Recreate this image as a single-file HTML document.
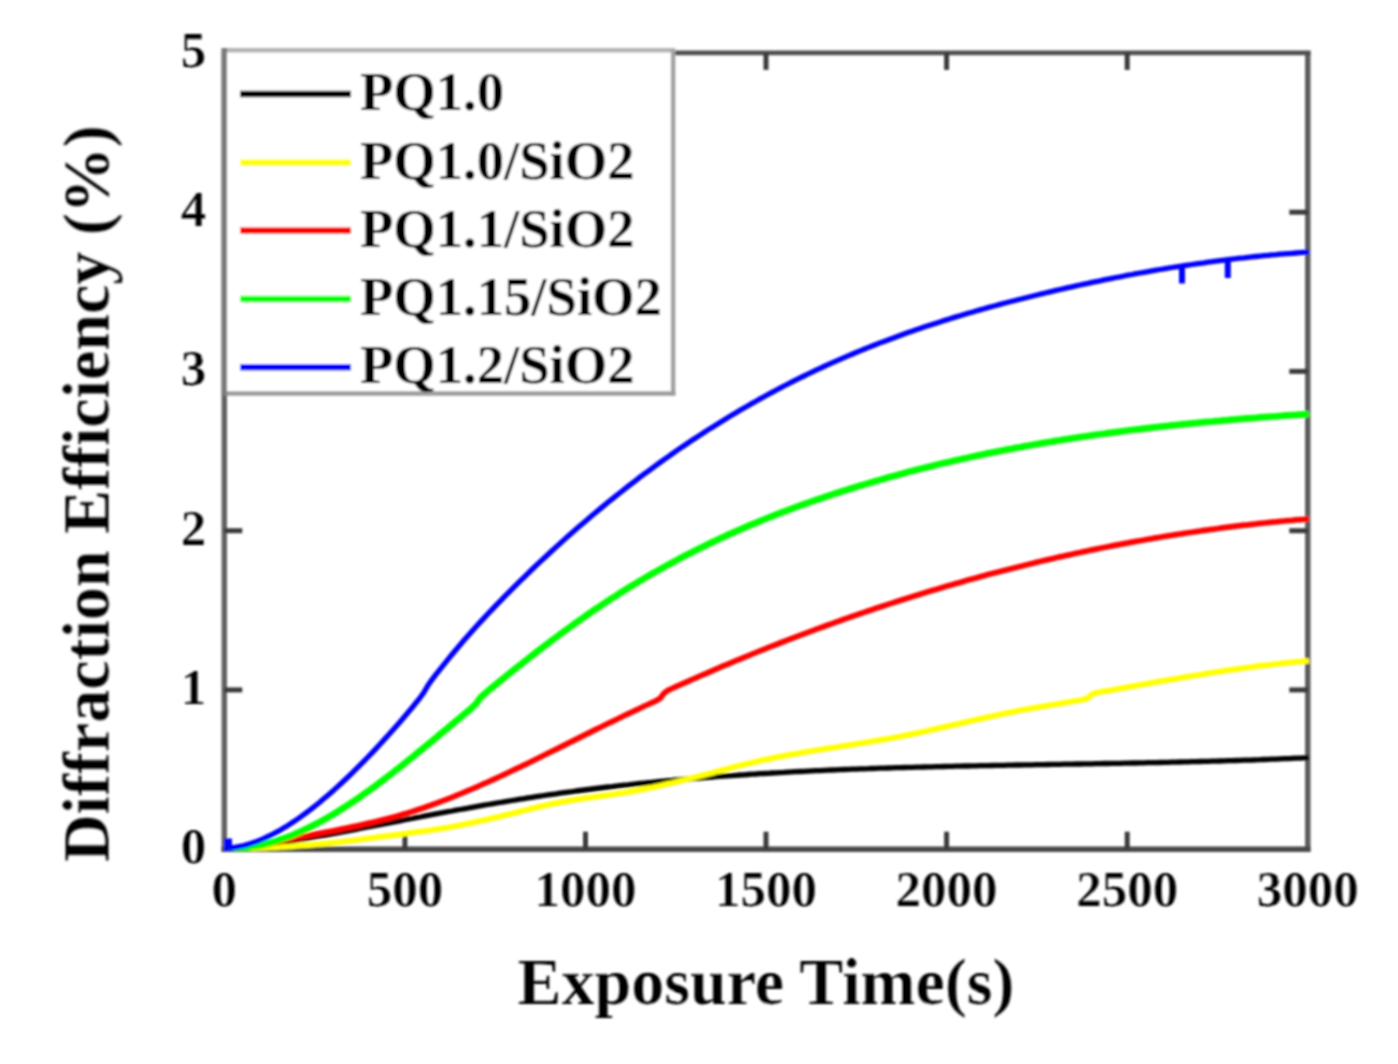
<!DOCTYPE html>
<html><head><meta charset="utf-8"><title>Diffraction Efficiency vs Exposure Time</title>
<style>
html,body{margin:0;padding:0;background:#fff;}
body{width:1398px;height:1064px;overflow:hidden;}
svg{display:block;}
text{font-variant-ligatures:none;font-family:"Liberation Serif",serif;font-weight:bold;fill:#000;}
.lg{font-size:54.6px;}
.tk{font-size:51px;stroke:#fff;stroke-width:0.2px;}
.ti{font-size:66px;stroke:#fff;stroke-width:0.2px;}
</style></head><body>
<svg width="1398" height="1064" viewBox="0 0 1398 1064">
<defs><filter id="bl" x="-2%" y="-2%" width="104%" height="104%"><feGaussianBlur stdDeviation="1.15"/></filter><clipPath id="cp"><rect x="224" y="40" width="1085.6" height="811"/></clipPath></defs>
<rect width="1398" height="1064" fill="#fff"/>
<g filter="url(#bl)">
<g fill="none">
<line x1="224.3" y1="50.9" x2="224.3" y2="851.7" stroke="#626262" stroke-width="5.5"/>
<line x1="1307.8" y1="50.9" x2="1307.8" y2="851.7" stroke="#5c5c5c" stroke-width="5.5"/>
<line x1="224.3" y1="52.9" x2="1310.5" y2="52.9" stroke="#4f4f4f" stroke-width="4.6"/>
<line x1="221.60000000000002" y1="849.2" x2="1310.5" y2="849.2" stroke="#494949" stroke-width="5.5"/>
</g>
<g stroke="#3a3a3a" stroke-width="5">
<line x1="404.9" y1="849.2" x2="404.9" y2="831.7"/>
<line x1="404.9" y1="52.9" x2="404.9" y2="69.9"/>
<line x1="585.5" y1="849.2" x2="585.5" y2="831.7"/>
<line x1="585.5" y1="52.9" x2="585.5" y2="69.9"/>
<line x1="766.0" y1="849.2" x2="766.0" y2="831.7"/>
<line x1="766.0" y1="52.9" x2="766.0" y2="69.9"/>
<line x1="946.6" y1="849.2" x2="946.6" y2="831.7"/>
<line x1="946.6" y1="52.9" x2="946.6" y2="69.9"/>
<line x1="1127.2" y1="849.2" x2="1127.2" y2="831.7"/>
<line x1="1127.2" y1="52.9" x2="1127.2" y2="69.9"/>
<line x1="224.3" y1="689.9" x2="242.3" y2="689.9"/>
<line x1="1307.8" y1="689.9" x2="1289.3" y2="689.9"/>
<line x1="224.3" y1="530.7" x2="242.3" y2="530.7"/>
<line x1="1307.8" y1="530.7" x2="1289.3" y2="530.7"/>
<line x1="224.3" y1="371.4" x2="242.3" y2="371.4"/>
<line x1="1307.8" y1="371.4" x2="1289.3" y2="371.4"/>
<line x1="224.3" y1="212.2" x2="242.3" y2="212.2"/>
<line x1="1307.8" y1="212.2" x2="1289.3" y2="212.2"/>
</g>
<g fill="none" stroke-linejoin="round" clip-path="url(#cp)">
<path d="M224.0,848.6 L228.0,848.3 L232.0,848.0 L236.0,847.7 L240.0,847.4 L244.0,847.0 L248.0,846.6 L252.0,846.2 L256.0,845.7 L260.0,845.2 L264.0,844.7 L268.0,844.2 L272.0,843.7 L276.0,843.1 L280.0,842.6 L284.0,842.0 L288.0,841.4 L292.0,840.8 L296.0,840.1 L300.0,839.5 L304.0,838.8 L308.0,838.1 L312.0,837.4 L316.0,836.7 L320.0,836.0 L324.0,835.3 L328.0,834.6 L332.0,833.8 L336.0,833.1 L340.0,832.3 L344.0,831.6 L348.0,830.8 L352.0,830.1 L356.0,829.3 L360.0,828.5 L364.0,827.7 L368.0,827.0 L372.0,826.2 L376.0,825.4 L380.0,824.6 L384.0,823.9 L388.0,823.1 L392.0,822.3 L396.0,821.6 L400.0,820.8 L404.0,820.0 L408.0,819.2 L412.0,818.5 L416.0,817.7 L420.0,817.0 L424.0,816.2 L428.0,815.4 L432.0,814.7 L436.0,813.9 L440.0,813.2 L444.0,812.4 L448.0,811.7 L452.0,811.0 L456.0,810.2 L460.0,809.5 L464.0,808.8 L468.0,808.1 L472.0,807.3 L476.0,806.6 L480.0,805.9 L484.0,805.2 L488.0,804.5 L492.0,803.8 L496.0,803.2 L500.0,802.5 L504.0,801.8 L508.0,801.2 L512.0,800.5 L516.0,799.8 L520.0,799.2 L524.0,798.6 L528.0,797.9 L532.0,797.3 L536.0,796.7 L540.0,796.1 L544.0,795.5 L548.0,794.9 L552.0,794.3 L556.0,793.8 L560.0,793.2 L564.0,792.6 L568.0,792.1 L572.0,791.6 L576.0,791.0 L580.0,790.5 L584.0,790.0 L588.0,789.5 L592.0,789.0 L596.0,788.5 L600.0,788.0 L604.0,787.5 L608.0,787.0 L612.0,786.6 L616.0,786.1 L620.0,785.6 L624.0,785.2 L628.0,784.8 L632.0,784.3 L636.0,783.9 L640.0,783.5 L644.0,783.1 L648.0,782.7 L652.0,782.3 L656.0,781.9 L660.0,781.5 L664.0,781.1 L668.0,780.7 L672.0,780.4 L676.0,780.0 L680.0,779.7 L684.0,779.3 L688.0,779.0 L692.0,778.6 L696.0,778.3 L700.0,778.0 L704.0,777.7 L708.0,777.3 L712.0,777.0 L716.0,776.7 L720.0,776.4 L724.0,776.1 L728.0,775.8 L732.0,775.6 L736.0,775.3 L740.0,775.0 L744.0,774.8 L748.0,774.5 L752.0,774.2 L756.0,774.0 L760.0,773.7 L764.0,773.5 L768.0,773.3 L772.0,773.0 L776.0,772.8 L780.0,772.6 L784.0,772.4 L788.0,772.1 L792.0,771.9 L796.0,771.7 L800.0,771.5 L804.0,771.3 L808.0,771.1 L812.0,770.9 L816.0,770.7 L820.0,770.6 L824.0,770.4 L828.0,770.2 L832.0,770.0 L836.0,769.9 L840.0,769.7 L844.0,769.5 L848.0,769.4 L852.0,769.2 L856.0,769.1 L860.0,768.9 L864.0,768.8 L868.0,768.7 L872.0,768.5 L876.0,768.4 L880.0,768.2 L884.0,768.1 L888.0,768.0 L892.0,767.9 L896.0,767.7 L900.0,767.6 L904.0,767.5 L908.0,767.4 L912.0,767.3 L916.0,767.2 L920.0,767.1 L924.0,767.0 L928.0,766.9 L932.0,766.8 L936.0,766.7 L940.0,766.6 L944.0,766.5 L948.0,766.4 L952.0,766.3 L956.0,766.2 L960.0,766.1 L964.0,766.0 L968.0,766.0 L972.0,765.9 L976.0,765.8 L980.0,765.7 L984.0,765.6 L988.0,765.6 L992.0,765.5 L996.0,765.4 L1000.0,765.3 L1004.0,765.3 L1008.0,765.2 L1012.0,765.1 L1016.0,765.0 L1020.0,765.0 L1024.0,764.9 L1028.0,764.8 L1032.0,764.8 L1036.0,764.7 L1040.0,764.6 L1044.0,764.6 L1048.0,764.5 L1052.0,764.4 L1056.0,764.4 L1060.0,764.3 L1064.0,764.2 L1068.0,764.2 L1072.0,764.1 L1076.0,764.0 L1080.0,764.0 L1084.0,763.9 L1088.0,763.8 L1092.0,763.8 L1096.0,763.7 L1100.0,763.6 L1104.0,763.5 L1108.0,763.5 L1112.0,763.4 L1116.0,763.3 L1120.0,763.3 L1124.0,763.2 L1128.0,763.1 L1132.0,763.0 L1136.0,763.0 L1140.0,762.9 L1144.0,762.8 L1148.0,762.7 L1152.0,762.6 L1156.0,762.6 L1160.0,762.5 L1164.0,762.4 L1168.0,762.3 L1172.0,762.2 L1176.0,762.1 L1180.0,762.0 L1184.0,761.9 L1188.0,761.8 L1192.0,761.7 L1196.0,761.6 L1200.0,761.5 L1204.0,761.4 L1208.0,761.3 L1212.0,761.2 L1216.0,761.1 L1220.0,761.0 L1224.0,760.9 L1228.0,760.7 L1232.0,760.6 L1236.0,760.5 L1240.0,760.4 L1244.0,760.2 L1248.0,760.1 L1252.0,760.0 L1256.0,759.8 L1260.0,759.7 L1264.0,759.5 L1268.0,759.4 L1272.0,759.2 L1276.0,759.1 L1280.0,758.9 L1284.0,758.7 L1288.0,758.6 L1292.0,758.4 L1296.0,758.2 L1300.0,758.1 L1304.0,757.9 L1308.0,757.7 L1309.0,757.6" stroke="#000" stroke-width="5.3"/>
<path d="M224.0,848.5 L228.0,848.5 L232.0,848.5 L236.0,848.5 L240.0,848.4 L244.0,848.4 L248.0,848.3 L252.0,848.2 L256.0,848.1 L260.0,847.9 L264.0,847.8 L268.0,847.6 L272.0,847.5 L276.0,847.3 L280.0,847.0 L284.0,846.8 L288.0,846.6 L292.0,846.3 L296.0,846.0 L300.0,845.7 L304.0,845.4 L308.0,845.1 L312.0,844.8 L316.0,844.4 L320.0,844.1 L324.0,843.7 L328.0,843.3 L332.0,842.9 L336.0,842.4 L340.0,842.0 L344.0,841.5 L348.0,841.0 L352.0,840.6 L356.0,840.1 L360.0,839.5 L364.0,839.0 L368.0,838.5 L372.0,838.0 L376.0,837.4 L380.0,836.9 L384.0,836.4 L388.0,835.8 L392.0,835.3 L396.0,834.8 L400.0,834.3 L404.0,833.8 L408.0,833.2 L412.0,832.7 L416.0,832.2 L420.0,831.7 L424.0,831.2 L428.0,830.6 L432.0,830.0 L436.0,829.4 L440.0,828.8 L444.0,828.1 L448.0,827.5 L452.0,826.7 L456.0,826.0 L460.0,825.2 L464.0,824.4 L468.0,823.6 L472.0,822.8 L476.0,821.9 L480.0,821.0 L484.0,820.1 L488.0,819.2 L492.0,818.3 L496.0,817.4 L500.0,816.4 L504.0,815.4 L508.0,814.4 L512.0,813.4 L516.0,812.4 L520.0,811.4 L524.0,810.5 L528.0,809.5 L532.0,808.5 L536.0,807.5 L540.0,806.6 L544.0,805.7 L548.0,804.8 L552.0,803.9 L556.0,803.1 L560.0,802.3 L564.0,801.6 L568.0,800.9 L572.0,800.2 L576.0,799.6 L580.0,799.0 L584.0,798.4 L588.0,797.8 L592.0,797.3 L596.0,796.7 L600.0,796.2 L604.0,795.6 L608.0,795.1 L612.0,794.5 L616.0,793.9 L620.0,793.3 L624.0,792.7 L628.0,792.1 L632.0,791.4 L636.0,790.7 L640.0,789.9 L644.0,789.1 L648.0,788.3 L652.0,787.5 L656.0,786.6 L660.0,785.7 L664.0,784.8 L668.0,783.9 L672.0,783.0 L676.0,782.0 L680.0,781.0 L684.0,780.1 L688.0,779.1 L692.0,778.1 L696.0,777.0 L700.0,776.0 L704.0,775.0 L708.0,773.9 L712.0,772.9 L716.0,771.8 L720.0,770.8 L724.0,769.7 L728.0,768.7 L732.0,767.6 L736.0,766.6 L740.0,765.6 L744.0,764.6 L748.0,763.6 L752.0,762.7 L756.0,761.7 L760.0,760.8 L764.0,759.9 L768.0,759.1 L772.0,758.2 L776.0,757.4 L780.0,756.6 L784.0,755.9 L788.0,755.1 L792.0,754.4 L796.0,753.7 L800.0,753.0 L804.0,752.3 L808.0,751.6 L812.0,751.0 L816.0,750.3 L820.0,749.7 L824.0,749.0 L828.0,748.4 L832.0,747.8 L836.0,747.2 L840.0,746.5 L844.0,745.9 L848.0,745.3 L852.0,744.7 L856.0,744.1 L860.0,743.4 L864.0,742.8 L868.0,742.1 L872.0,741.5 L876.0,740.8 L880.0,740.1 L884.0,739.4 L888.0,738.7 L892.0,738.0 L896.0,737.3 L900.0,736.5 L904.0,735.7 L908.0,734.9 L912.0,734.1 L916.0,733.3 L920.0,732.4 L924.0,731.6 L928.0,730.7 L932.0,729.8 L936.0,728.9 L940.0,728.0 L944.0,727.1 L948.0,726.2 L952.0,725.3 L956.0,724.4 L960.0,723.4 L964.0,722.5 L968.0,721.6 L972.0,720.7 L976.0,719.8 L980.0,718.9 L984.0,718.0 L988.0,717.1 L992.0,716.2 L996.0,715.4 L1000.0,714.5 L1004.0,713.7 L1008.0,712.9 L1012.0,712.1 L1016.0,711.3 L1020.0,710.5 L1024.0,709.8 L1028.0,709.0 L1032.0,708.3 L1036.0,707.6 L1040.0,706.9 L1044.0,706.3 L1048.0,705.6 L1052.0,704.9 L1056.0,704.3 L1060.0,703.6 L1064.0,702.9 L1068.0,702.2 L1072.0,701.5 L1076.0,700.8 L1080.0,700.2 L1084.0,699.5 L1088.0,698.0 L1092.0,694.3 L1096.0,692.8 L1100.0,692.1 L1104.0,691.4 L1108.0,690.7 L1112.0,690.0 L1116.0,689.3 L1120.0,688.6 L1124.0,687.8 L1128.0,687.1 L1132.0,686.4 L1136.0,685.7 L1140.0,685.0 L1144.0,684.3 L1148.0,683.6 L1152.0,682.8 L1156.0,682.1 L1160.0,681.4 L1164.0,680.7 L1168.0,680.0 L1172.0,679.4 L1176.0,678.7 L1180.0,678.0 L1184.0,677.3 L1188.0,676.6 L1192.0,676.0 L1196.0,675.3 L1200.0,674.7 L1204.0,674.0 L1208.0,673.4 L1212.0,672.8 L1216.0,672.1 L1220.0,671.5 L1224.0,670.9 L1228.0,670.3 L1232.0,669.7 L1236.0,669.2 L1240.0,668.6 L1244.0,668.0 L1248.0,667.5 L1252.0,667.0 L1256.0,666.4 L1260.0,665.9 L1264.0,665.4 L1268.0,665.0 L1272.0,664.5 L1276.0,664.0 L1280.0,663.6 L1284.0,663.1 L1288.0,662.7 L1292.0,662.3 L1296.0,661.9 L1300.0,661.6 L1304.0,661.2 L1308.0,660.9 L1309.0,660.8" stroke="#ffff00" stroke-width="5.7"/>
<path d="M224.0,848.5 L228.0,848.4 L232.0,848.2 L236.0,847.9 L240.0,847.5 L244.0,847.1 L248.0,846.6 L252.0,846.1 L256.0,845.6 L260.0,845.0 L264.0,844.3 L268.0,843.6 L272.0,842.9 L276.0,842.2 L280.0,841.4 L284.0,840.6 L288.0,839.8 L292.0,839.0 L296.0,838.2 L300.0,837.4 L304.0,836.6 L308.0,835.8 L312.0,834.9 L316.0,834.1 L320.0,833.3 L324.0,832.5 L328.0,831.7 L332.0,831.0 L336.0,830.2 L340.0,829.4 L344.0,828.5 L348.0,827.7 L352.0,826.9 L356.0,826.1 L360.0,825.2 L364.0,824.3 L368.0,823.4 L372.0,822.5 L376.0,821.6 L380.0,820.6 L384.0,819.6 L388.0,818.6 L392.0,817.5 L396.0,816.4 L400.0,815.3 L404.0,814.1 L408.0,812.9 L412.0,811.6 L416.0,810.3 L420.0,809.0 L424.0,807.7 L428.0,806.3 L432.0,804.8 L436.0,803.4 L440.0,801.9 L444.0,800.4 L448.0,798.8 L452.0,797.3 L456.0,795.7 L460.0,794.0 L464.0,792.4 L468.0,790.7 L472.0,789.0 L476.0,787.3 L480.0,785.5 L484.0,783.7 L488.0,782.0 L492.0,780.1 L496.0,778.3 L500.0,776.5 L504.0,774.6 L508.0,772.7 L512.0,770.8 L516.0,768.9 L520.0,767.0 L524.0,765.1 L528.0,763.2 L532.0,761.2 L536.0,759.2 L540.0,757.3 L544.0,755.3 L548.0,753.3 L552.0,751.3 L556.0,749.4 L560.0,747.4 L564.0,745.4 L568.0,743.4 L572.0,741.4 L576.0,739.4 L580.0,737.4 L584.0,735.4 L588.0,733.4 L592.0,731.4 L596.0,729.4 L600.0,727.5 L604.0,725.5 L608.0,723.5 L612.0,721.6 L616.0,719.7 L620.0,717.7 L624.0,715.8 L628.0,713.9 L632.0,712.0 L636.0,710.1 L640.0,708.2 L644.0,706.3 L648.0,704.5 L652.0,702.6 L656.0,700.8 L660.0,698.5 L664.0,693.3 L668.0,690.3 L672.0,688.5 L676.0,686.6 L680.0,684.9 L684.0,683.1 L688.0,681.3 L692.0,679.5 L696.0,677.8 L700.0,676.0 L704.0,674.3 L708.0,672.6 L712.0,670.8 L716.0,669.1 L720.0,667.4 L724.0,665.7 L728.0,664.1 L732.0,662.4 L736.0,660.7 L740.0,659.1 L744.0,657.4 L748.0,655.8 L752.0,654.2 L756.0,652.5 L760.0,650.9 L764.0,649.3 L768.0,647.7 L772.0,646.2 L776.0,644.6 L780.0,643.0 L784.0,641.5 L788.0,639.9 L792.0,638.4 L796.0,636.9 L800.0,635.4 L804.0,633.9 L808.0,632.4 L812.0,630.9 L816.0,629.4 L820.0,627.9 L824.0,626.5 L828.0,625.0 L832.0,623.6 L836.0,622.1 L840.0,620.7 L844.0,619.3 L848.0,617.9 L852.0,616.5 L856.0,615.1 L860.0,613.7 L864.0,612.4 L868.0,611.0 L872.0,609.7 L876.0,608.3 L880.0,607.0 L884.0,605.7 L888.0,604.4 L892.0,603.1 L896.0,601.8 L900.0,600.5 L904.0,599.2 L908.0,598.0 L912.0,596.7 L916.0,595.5 L920.0,594.2 L924.0,593.0 L928.0,591.8 L932.0,590.6 L936.0,589.4 L940.0,588.2 L944.0,587.0 L948.0,585.8 L952.0,584.7 L956.0,583.5 L960.0,582.4 L964.0,581.2 L968.0,580.1 L972.0,579.0 L976.0,577.9 L980.0,576.8 L984.0,575.7 L988.0,574.6 L992.0,573.6 L996.0,572.5 L1000.0,571.5 L1004.0,570.4 L1008.0,569.4 L1012.0,568.4 L1016.0,567.4 L1020.0,566.4 L1024.0,565.4 L1028.0,564.4 L1032.0,563.4 L1036.0,562.4 L1040.0,561.5 L1044.0,560.5 L1048.0,559.6 L1052.0,558.7 L1056.0,557.8 L1060.0,556.9 L1064.0,556.0 L1068.0,555.1 L1072.0,554.2 L1076.0,553.3 L1080.0,552.5 L1084.0,551.6 L1088.0,550.8 L1092.0,549.9 L1096.0,549.1 L1100.0,548.3 L1104.0,547.5 L1108.0,546.7 L1112.0,545.9 L1116.0,545.1 L1120.0,544.4 L1124.0,543.6 L1128.0,542.9 L1132.0,542.1 L1136.0,541.4 L1140.0,540.7 L1144.0,540.0 L1148.0,539.2 L1152.0,538.6 L1156.0,537.9 L1160.0,537.2 L1164.0,536.5 L1168.0,535.9 L1172.0,535.2 L1176.0,534.6 L1180.0,534.0 L1184.0,533.4 L1188.0,532.8 L1192.0,532.2 L1196.0,531.6 L1200.0,531.0 L1204.0,530.4 L1208.0,529.9 L1212.0,529.3 L1216.0,528.8 L1220.0,528.2 L1224.0,527.7 L1228.0,527.2 L1232.0,526.7 L1236.0,526.2 L1240.0,525.7 L1244.0,525.2 L1248.0,524.8 L1252.0,524.3 L1256.0,523.9 L1260.0,523.4 L1264.0,523.0 L1268.0,522.6 L1272.0,522.2 L1276.0,521.8 L1280.0,521.4 L1284.0,521.0 L1288.0,520.6 L1292.0,520.3 L1296.0,519.9 L1300.0,519.6 L1304.0,519.3 L1308.0,518.9 L1309.0,518.9" stroke="#ff0000" stroke-width="5.7"/>
<path d="M224.0,848.6 L228.0,848.7 L232.0,848.6 L236.0,848.5 L240.0,848.3 L244.0,847.9 L248.0,847.4 L252.0,846.8 L256.0,846.1 L260.0,845.3 L264.0,844.4 L268.0,843.4 L272.0,842.3 L276.0,841.1 L280.0,839.7 L284.0,838.3 L288.0,836.9 L292.0,835.3 L296.0,833.6 L300.0,831.9 L304.0,830.0 L308.0,828.1 L312.0,826.1 L316.0,824.0 L320.0,821.9 L324.0,819.7 L328.0,817.4 L332.0,815.1 L336.0,812.7 L340.0,810.2 L344.0,807.6 L348.0,805.0 L352.0,802.4 L356.0,799.7 L360.0,796.9 L364.0,794.1 L368.0,791.3 L372.0,788.4 L376.0,785.5 L380.0,782.5 L384.0,779.5 L388.0,776.4 L392.0,773.3 L396.0,770.2 L400.0,767.1 L404.0,763.9 L408.0,760.7 L412.0,757.5 L416.0,754.2 L420.0,750.9 L424.0,747.7 L428.0,744.4 L432.0,741.1 L436.0,737.8 L440.0,734.4 L444.0,731.1 L448.0,727.8 L452.0,724.4 L456.0,721.1 L460.0,717.8 L464.0,714.4 L468.0,711.1 L472.0,707.7 L476.0,703.8 L480.0,698.2 L484.0,694.3 L488.0,691.0 L492.0,687.7 L496.0,684.4 L500.0,681.1 L504.0,677.9 L508.0,674.7 L512.0,671.4 L516.0,668.2 L520.0,665.1 L524.0,661.9 L528.0,658.8 L532.0,655.6 L536.0,652.5 L540.0,649.5 L544.0,646.4 L548.0,643.4 L552.0,640.4 L556.0,637.4 L560.0,634.4 L564.0,631.5 L568.0,628.6 L572.0,625.7 L576.0,622.8 L580.0,620.0 L584.0,617.1 L588.0,614.4 L592.0,611.6 L596.0,608.9 L600.0,606.2 L604.0,603.5 L608.0,600.9 L612.0,598.3 L616.0,595.7 L620.0,593.1 L624.0,590.6 L628.0,588.1 L632.0,585.7 L636.0,583.3 L640.0,580.9 L644.0,578.5 L648.0,576.2 L652.0,573.8 L656.0,571.6 L660.0,569.3 L664.0,567.1 L668.0,564.9 L672.0,562.7 L676.0,560.6 L680.0,558.4 L684.0,556.3 L688.0,554.3 L692.0,552.2 L696.0,550.2 L700.0,548.2 L704.0,546.2 L708.0,544.3 L712.0,542.4 L716.0,540.5 L720.0,538.6 L724.0,536.8 L728.0,534.9 L732.0,533.1 L736.0,531.3 L740.0,529.6 L744.0,527.9 L748.0,526.1 L752.0,524.4 L756.0,522.8 L760.0,521.1 L764.0,519.5 L768.0,517.9 L772.0,516.3 L776.0,514.7 L780.0,513.2 L784.0,511.6 L788.0,510.1 L792.0,508.6 L796.0,507.1 L800.0,505.7 L804.0,504.2 L808.0,502.8 L812.0,501.4 L816.0,500.0 L820.0,498.7 L824.0,497.3 L828.0,496.0 L832.0,494.6 L836.0,493.3 L840.0,492.0 L844.0,490.7 L848.0,489.5 L852.0,488.2 L856.0,487.0 L860.0,485.8 L864.0,484.6 L868.0,483.4 L872.0,482.2 L876.0,481.0 L880.0,479.9 L884.0,478.7 L888.0,477.6 L892.0,476.5 L896.0,475.4 L900.0,474.3 L904.0,473.2 L908.0,472.1 L912.0,471.1 L916.0,470.1 L920.0,469.0 L924.0,468.0 L928.0,467.0 L932.0,466.0 L936.0,465.1 L940.0,464.1 L944.0,463.1 L948.0,462.2 L952.0,461.3 L956.0,460.3 L960.0,459.4 L964.0,458.5 L968.0,457.7 L972.0,456.8 L976.0,455.9 L980.0,455.1 L984.0,454.2 L988.0,453.4 L992.0,452.6 L996.0,451.8 L1000.0,451.0 L1004.0,450.2 L1008.0,449.4 L1012.0,448.7 L1016.0,447.9 L1020.0,447.2 L1024.0,446.4 L1028.0,445.7 L1032.0,445.0 L1036.0,444.3 L1040.0,443.6 L1044.0,442.9 L1048.0,442.2 L1052.0,441.6 L1056.0,440.9 L1060.0,440.3 L1064.0,439.6 L1068.0,439.0 L1072.0,438.4 L1076.0,437.7 L1080.0,437.1 L1084.0,436.5 L1088.0,436.0 L1092.0,435.4 L1096.0,434.8 L1100.0,434.2 L1104.0,433.7 L1108.0,433.1 L1112.0,432.6 L1116.0,432.1 L1120.0,431.6 L1124.0,431.0 L1128.0,430.5 L1132.0,430.0 L1136.0,429.5 L1140.0,429.1 L1144.0,428.6 L1148.0,428.1 L1152.0,427.6 L1156.0,427.2 L1160.0,426.7 L1164.0,426.3 L1168.0,425.9 L1172.0,425.4 L1176.0,425.0 L1180.0,424.6 L1184.0,424.2 L1188.0,423.8 L1192.0,423.4 L1196.0,423.0 L1200.0,422.6 L1204.0,422.2 L1208.0,421.8 L1212.0,421.5 L1216.0,421.1 L1220.0,420.8 L1224.0,420.4 L1228.0,420.1 L1232.0,419.7 L1236.0,419.4 L1240.0,419.0 L1244.0,418.7 L1248.0,418.4 L1252.0,418.1 L1256.0,417.8 L1260.0,417.4 L1264.0,417.1 L1268.0,416.8 L1272.0,416.5 L1276.0,416.3 L1280.0,416.0 L1284.0,415.7 L1288.0,415.4 L1292.0,415.1 L1296.0,414.9 L1300.0,414.6 L1304.0,414.3 L1308.0,414.1 L1309.0,414.0" stroke="#00ff00" stroke-width="6.7"/>
<path d="M224.0,848.5 L228.0,848.2 L232.0,847.8 L236.0,847.2 L240.0,846.4 L244.0,845.5 L248.0,844.4 L252.0,843.1 L256.0,841.7 L260.0,840.1 L264.0,838.4 L268.0,836.5 L272.0,834.5 L276.0,832.4 L280.0,830.2 L284.0,827.8 L288.0,825.4 L292.0,822.8 L296.0,820.1 L300.0,817.3 L304.0,814.4 L308.0,811.5 L312.0,808.4 L316.0,805.2 L320.0,802.0 L324.0,798.6 L328.0,795.2 L332.0,791.7 L336.0,788.1 L340.0,784.5 L344.0,780.8 L348.0,777.0 L352.0,773.1 L356.0,769.2 L360.0,765.2 L364.0,761.1 L368.0,757.0 L372.0,752.8 L376.0,748.6 L380.0,744.3 L384.0,739.9 L388.0,735.5 L392.0,731.0 L396.0,726.5 L400.0,721.9 L404.0,717.2 L408.0,712.5 L412.0,707.7 L416.0,702.8 L420.0,697.8 L424.0,692.3 L428.0,685.2 L432.0,679.6 L436.0,674.4 L440.0,669.3 L444.0,664.3 L448.0,659.4 L452.0,654.5 L456.0,649.7 L460.0,645.0 L464.0,640.3 L468.0,635.8 L472.0,631.2 L476.0,626.8 L480.0,622.4 L484.0,618.1 L488.0,613.8 L492.0,609.6 L496.0,605.4 L500.0,601.3 L504.0,597.2 L508.0,593.1 L512.0,589.1 L516.0,585.1 L520.0,581.2 L524.0,577.3 L528.0,573.4 L532.0,569.5 L536.0,565.7 L540.0,561.9 L544.0,558.2 L548.0,554.5 L552.0,550.8 L556.0,547.1 L560.0,543.5 L564.0,539.9 L568.0,536.3 L572.0,532.8 L576.0,529.3 L580.0,525.8 L584.0,522.4 L588.0,519.0 L592.0,515.6 L596.0,512.2 L600.0,508.9 L604.0,505.6 L608.0,502.3 L612.0,499.1 L616.0,495.9 L620.0,492.7 L624.0,489.6 L628.0,486.4 L632.0,483.3 L636.0,480.3 L640.0,477.2 L644.0,474.2 L648.0,471.3 L652.0,468.3 L656.0,465.4 L660.0,462.5 L664.0,459.6 L668.0,456.8 L672.0,454.0 L676.0,451.2 L680.0,448.4 L684.0,445.7 L688.0,443.0 L692.0,440.3 L696.0,437.7 L700.0,435.1 L704.0,432.5 L708.0,429.9 L712.0,427.4 L716.0,424.9 L720.0,422.4 L724.0,419.9 L728.0,417.5 L732.0,415.1 L736.0,412.7 L740.0,410.3 L744.0,408.0 L748.0,405.7 L752.0,403.4 L756.0,401.2 L760.0,398.9 L764.0,396.7 L768.0,394.5 L772.0,392.4 L776.0,390.2 L780.0,388.1 L784.0,386.0 L788.0,384.0 L792.0,381.9 L796.0,379.9 L800.0,377.9 L804.0,376.0 L808.0,374.0 L812.0,372.1 L816.0,370.2 L820.0,368.4 L824.0,366.5 L828.0,364.7 L832.0,362.9 L836.0,361.1 L840.0,359.3 L844.0,357.6 L848.0,355.9 L852.0,354.2 L856.0,352.5 L860.0,350.9 L864.0,349.2 L868.0,347.6 L872.0,346.0 L876.0,344.5 L880.0,342.9 L884.0,341.4 L888.0,339.9 L892.0,338.4 L896.0,336.9 L900.0,335.5 L904.0,334.0 L908.0,332.6 L912.0,331.2 L916.0,329.8 L920.0,328.5 L924.0,327.1 L928.0,325.8 L932.0,324.5 L936.0,323.2 L940.0,321.9 L944.0,320.6 L948.0,319.4 L952.0,318.1 L956.0,316.9 L960.0,315.7 L964.0,314.5 L968.0,313.3 L972.0,312.2 L976.0,311.0 L980.0,309.9 L984.0,308.8 L988.0,307.6 L992.0,306.5 L996.0,305.5 L1000.0,304.4 L1004.0,303.3 L1008.0,302.3 L1012.0,301.2 L1016.0,300.2 L1020.0,299.2 L1024.0,298.2 L1028.0,297.2 L1032.0,296.2 L1036.0,295.2 L1040.0,294.2 L1044.0,293.3 L1048.0,292.3 L1052.0,291.4 L1056.0,290.4 L1060.0,289.5 L1064.0,288.6 L1068.0,287.7 L1072.0,286.8 L1076.0,285.9 L1080.0,285.0 L1084.0,284.1 L1088.0,283.3 L1092.0,282.4 L1096.0,281.6 L1100.0,280.8 L1104.0,279.9 L1108.0,279.1 L1112.0,278.3 L1116.0,277.5 L1120.0,276.8 L1124.0,276.0 L1128.0,275.2 L1132.0,274.5 L1136.0,273.7 L1140.0,273.0 L1144.0,272.3 L1148.0,271.6 L1152.0,270.9 L1156.0,270.2 L1160.0,269.5 L1164.0,268.8 L1168.0,268.2 L1172.0,267.5 L1176.0,266.9 L1180.0,266.3 L1184.0,265.7 L1188.0,265.1 L1192.0,264.5 L1196.0,263.9 L1200.0,263.3 L1204.0,262.8 L1208.0,262.2 L1212.0,261.7 L1216.0,261.1 L1220.0,260.6 L1224.0,260.1 L1228.0,259.6 L1232.0,259.1 L1236.0,258.7 L1240.0,258.2 L1244.0,257.8 L1248.0,257.3 L1252.0,256.9 L1256.0,256.5 L1260.0,256.1 L1264.0,255.7 L1268.0,255.3 L1272.0,254.9 L1276.0,254.6 L1280.0,254.2 L1284.0,253.9 L1288.0,253.6 L1292.0,253.3 L1296.0,253.0 L1300.0,252.7 L1304.0,252.4 L1308.0,252.2 L1309.0,252.1" stroke="#0000ff" stroke-width="5.3"/>
<path d="M1182,264.5 V283.5 M1227.8,258.5 V278" stroke="#0000ff" stroke-width="6"/>
<rect x="224" y="838.5" width="8" height="10.5" fill="#0000ff"/>
</g>
<rect x="224" y="50.2" width="449.1" height="343.2" fill="#fff"/>
<line x1="221.5" y1="50.2" x2="675.3" y2="50.2" stroke="#b3b3b3" stroke-width="4.5"/>
<line x1="673.1" y1="50.2" x2="673.1" y2="395.6" stroke="#a1a1a1" stroke-width="4.5"/>
<line x1="224" y1="393.4" x2="675.3" y2="393.4" stroke="#9c9c9c" stroke-width="4.5"/>
<line x1="224.3" y1="48" x2="224.3" y2="395.6" stroke="#7b7b7b" stroke-width="5.5"/>
<line x1="240" y1="94" x2="351" y2="94" stroke="#000" stroke-width="6.4"/>
<text x="360" y="110" class="lg">PQ1.0</text>
<line x1="240" y1="162.5" x2="351" y2="162.5" stroke="#ffff00" stroke-width="6.4"/>
<text x="360" y="178.5" class="lg">PQ1.0/SiO2</text>
<line x1="240" y1="230.5" x2="351" y2="230.5" stroke="#ff0000" stroke-width="6.4"/>
<text x="360" y="246.5" class="lg">PQ1.1/SiO2</text>
<line x1="240" y1="299" x2="351" y2="299" stroke="#00ff00" stroke-width="6.4"/>
<text x="360" y="315" class="lg">PQ1.15/SiO2</text>
<line x1="240" y1="367.3" x2="351" y2="367.3" stroke="#0000ff" stroke-width="6.4"/>
<text x="360" y="383.3" class="lg">PQ1.2/SiO2</text>
<text x="224.3" y="906" class="tk" text-anchor="middle">0</text>
<text x="404.9" y="906" class="tk" text-anchor="middle">500</text>
<text x="585.5" y="906" class="tk" text-anchor="middle">1000</text>
<text x="766.0" y="906" class="tk" text-anchor="middle">1500</text>
<text x="946.6" y="906" class="tk" text-anchor="middle">2000</text>
<text x="1127.2" y="906" class="tk" text-anchor="middle">2500</text>
<text x="1307.8" y="906" class="tk" text-anchor="middle">3000</text>
<text x="193.5" y="863.2" class="tk" text-anchor="middle">0</text>
<text x="193.5" y="703.9" class="tk" text-anchor="middle">1</text>
<text x="193.5" y="544.7" class="tk" text-anchor="middle">2</text>
<text x="193.5" y="385.4" class="tk" text-anchor="middle">3</text>
<text x="193.5" y="226.2" class="tk" text-anchor="middle">4</text>
<text x="193.5" y="66.9" class="tk" text-anchor="middle">5</text>
<text x="766" y="1004" class="ti" text-anchor="middle">Exposure Time(s)</text>
<text transform="translate(108.5,493.7) rotate(-90)" class="ti" text-anchor="middle">Diffraction Efficiency (%)</text>
</g></svg>
</body></html>
